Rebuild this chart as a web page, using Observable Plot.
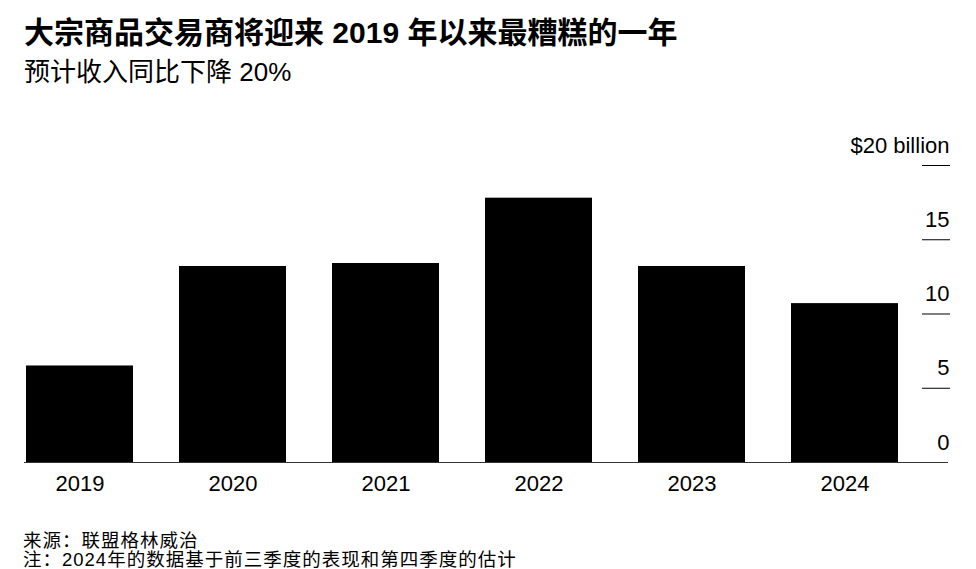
<!DOCTYPE html>
<html><head><meta charset="utf-8">
<script src="https://cdn.jsdelivr.net/npm/d3@7"></script>
<script src="https://cdn.jsdelivr.net/npm/@observablehq/plot@0.6"></script>
<style>
body{margin:0;background:#fff;font-family:"Liberation Sans","Noto Sans CJK SC",sans-serif;color:#000;}
#wrap{position:relative;width:976px;height:569px;}
h1{position:absolute;left:24px;top:15px;margin:0;font-size:30px;line-height:36px;font-weight:bold;letter-spacing:0px;white-space:nowrap;}
h2{position:absolute;left:24px;top:56px;margin:0;font-size:26px;line-height:32px;font-weight:normal;white-space:nowrap;}
#chart{position:absolute;left:0;top:110px;}
.cap{position:absolute;left:23px;font-size:18.5px;line-height:19px;letter-spacing:1px;white-space:nowrap;}
</style></head>
<body><div id="wrap">
<h1>大宗商品交易商将迎来 2019 年以来最糟糕的一年</h1>
<h2>预计收入同比下降 20%</h2>
<div id="chart"></div>
<div class="cap" style="top:531px">来源：联盟格林威治</div>
<div class="cap" style="top:550px">注：2024年的数据基于前三季度的表现和第四季度的估计</div>
</div>
<script>
const years = ["2019","2020","2021","2022","2023","2024"];
const revenue = [6.5, 13.2, 13.4, 17.8, 13.2, 10.7];
const yTicks = [0, 5, 10, 15, 20];
const yTickLabels = ["0", "5", "10", "15", "$20 billion"];

const data = years.map((y, i) => ({year: y, value: revenue[i]}));
const labels = yTicks.map((t, i) => ({t, label: yTickLabels[i]}));

const plot = Plot.plot({
  width: 976,
  height: 400,
  marginLeft: 24,
  marginRight: 28,
  marginTop: 0,
  marginBottom: 48,
  style: {fontFamily: '"Liberation Sans","Noto Sans CJK SC",sans-serif', fontSize: "22px", background: "#fff", color: "#000"},
  x: {domain: years, range: [24, 900], paddingInner: 0.3, paddingOuter: 0, label: null},
  y: {domain: [0, 20], range: [352, 55], label: null, axis: null},
  marks: [
    Plot.barY(data, {x: "year", y: "value", fill: "#000"}),
    Plot.ruleY([0], {stroke: "#333", strokeWidth: 1}),
    Plot.axisX({tickSize: 0, tickPadding: 13, fontSize: 22, label: null}),
    Plot.tickY(yTicks.filter(t => t > 0), {y: d => d, stroke: "#000", strokeWidth: 1, insetLeft: 898, insetRight: -2}),
    Plot.text(labels, {y: "t", text: "label", frameAnchor: "right", textAnchor: "end", dx: 1, dy: -20, fontSize: 22, fill: "#000"})
  ]
});
document.getElementById("chart").appendChild(plot);
</script>
</body></html>
